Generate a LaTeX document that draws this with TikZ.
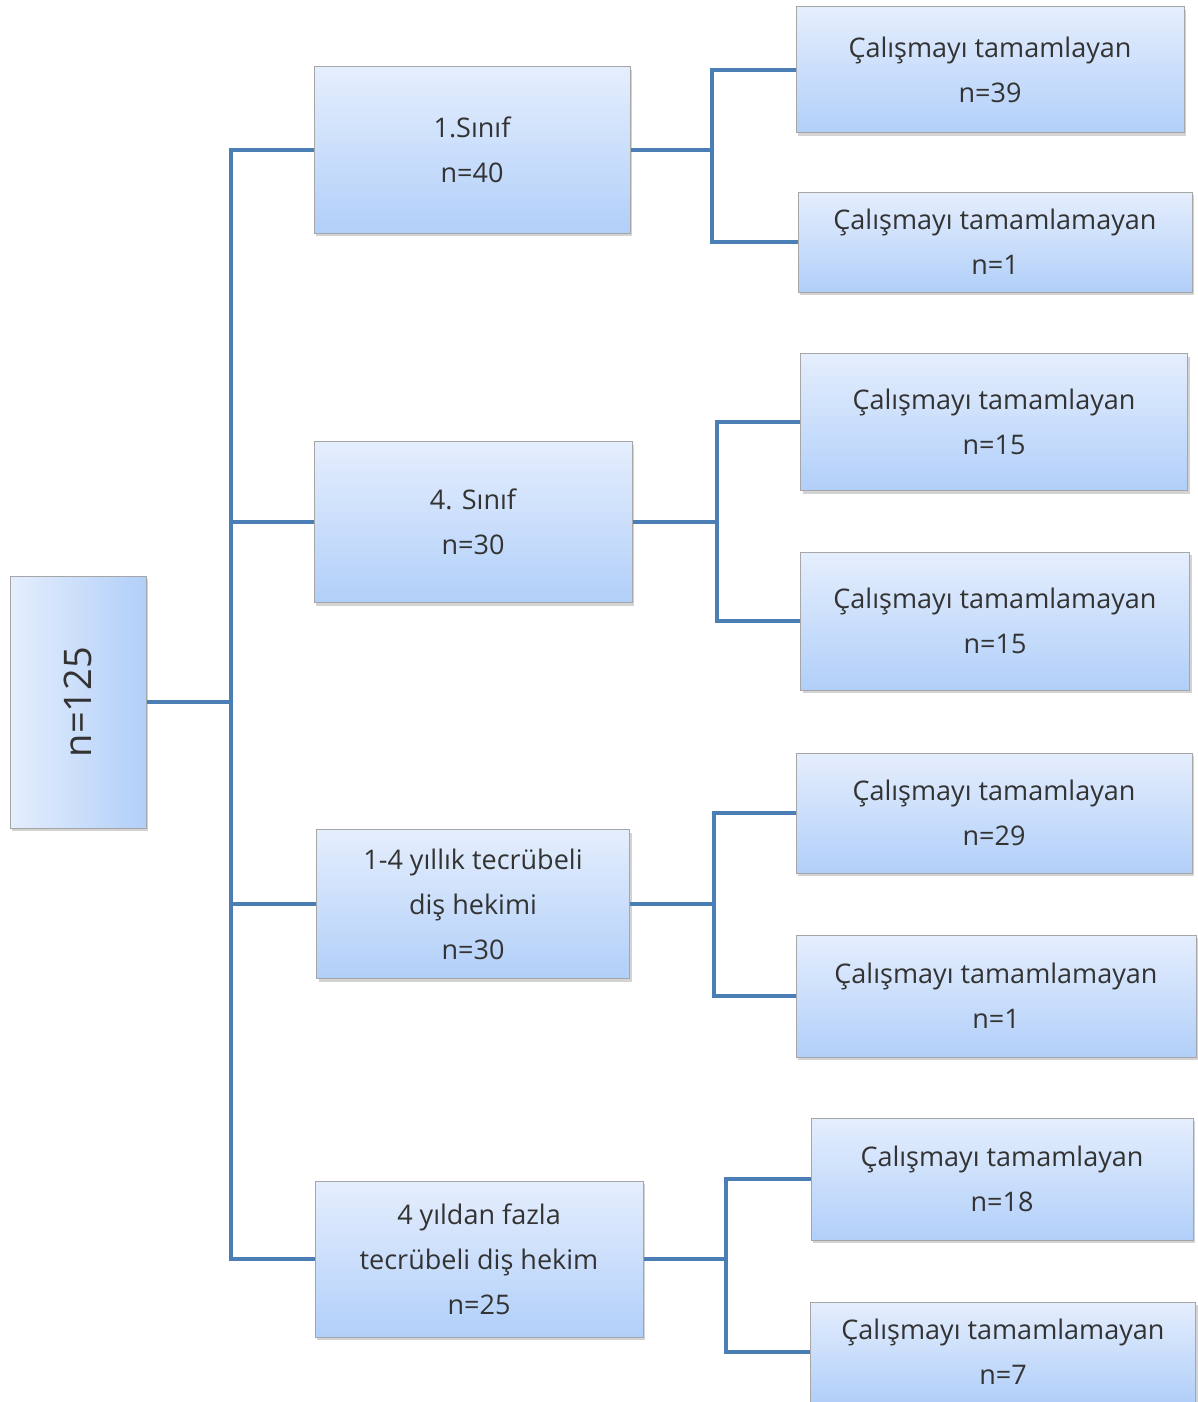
\documentclass[tikz,border=0pt]{standalone}
\usepackage{fontspec}
\setmainfont{Open Sans}
\usetikzlibrary{shapes, shadows, positioning}
\definecolor{boxtop}{RGB}{229,238,253}
\definecolor{boxbot}{RGB}{177,207,249}
\definecolor{linkblue}{RGB}{76,126,182}
\tikzstyle{plain} = [rectangle, draw=black!35, line width=1pt, align=center, text=black!80,
   drop shadow={shadow xshift=2pt, shadow yshift=-3pt, opacity=0.35}]
\tikzstyle{box} = [plain, top color=boxtop, bottom color=boxbot, font=\fontsize{27}{45}\selectfont]
\tikzstyle{root} = [plain, left color=boxtop, right color=boxbot,
   minimum width=136pt, minimum height=252pt, font=\fontsize{38}{40}\selectfont]
\tikzstyle{group} = [box, minimum width=316pt]
\tikzstyle{leaf} = [box, minimum width=390pt]
\tikzstyle{link} = [linkblue, line width=4pt]

\begin{document}
\begin{tikzpicture}[x=1pt, y=-1pt]
   \useasboundingbox (0,0) rectangle (1198,1402);
   % root
   \node (n) [root] at (78,702) {\rotatebox{90}{n=125}};
   % groups
   \node (s1) [group, minimum height=166pt] at (472,150) {1.Sınıf\\n=40};
   \node (s2) [group, minimum height=161pt, minimum width=318pt] at (473,522) {4. Sınıf\\n=30};
   \node (s3) [group, minimum height=149pt, minimum width=313pt] at (473,904) {1-4 yıllık tecrübeli\\diş hekimi\\n=30};
   \node (s4) [group, minimum height=156pt, minimum width=328pt] at (479,1259) {4 yıldan fazla\\tecrübeli diş hekim\\n=25};
   % results
   \node (a1) [leaf, minimum height=126pt, minimum width=388pt] at (990,70) {Çalışmayı tamamlayan\\n=39};
   \node (a2) [leaf, minimum height=100pt, minimum width=394pt] at (995,242) {Çalışmayı tamamlamayan\\n=1};
   \node (b1) [leaf, minimum height=137pt, minimum width=387pt] at (994,422) {Çalışmayı tamamlayan\\n=15};
   \node (b2) [leaf, minimum height=138pt, minimum width=389pt] at (995,621) {Çalışmayı tamamlamayan\\n=15};
   \node (c1) [leaf, minimum height=120pt, minimum width=396pt] at (994,813) {Çalışmayı tamamlayan\\n=29};
   \node (c2) [leaf, minimum height=122pt, minimum width=400pt] at (996,996) {Çalışmayı tamamlamayan\\n=1};
   \node (d1) [leaf, minimum height=122pt, minimum width=382pt] at (1002,1179) {Çalışmayı tamamlayan\\n=18};
   \node (d2) [leaf, minimum height=100pt, minimum width=385pt] at (1003,1352) {Çalışmayı tamamlamayan\\n=7};

   % junctions
   \coordinate (t0) at (231,702);
   \coordinate (t1) at (712,150);
   \coordinate (t2) at (717,522);
   \coordinate (t3) at (714,904);
   \coordinate (t4) at (726,1259);

   \draw [link] (n.east) -- (t0);
   \draw [link] (s1.west) -| (t0) |- (s4.west);
   \draw [link] (s2.west) -- (s2.west -| t0);
   \draw [link] (s3.west) -- (s3.west -| t0);

   \draw [link] (s1.east) -- (t1);
   \draw [link] (a1.west) -| (t1) |- (a2.west);
   \draw [link] (s2.east) -- (t2);
   \draw [link] (b1.west) -| (t2) |- (b2.west);
   \draw [link] (s3.east) -- (t3);
   \draw [link] (c1.west) -| (t3) |- (c2.west);
   \draw [link] (s4.east) -- (t4);
   \draw [link] (d1.west) -| (t4) |- (d2.west);
\end{tikzpicture}
\end{document}
